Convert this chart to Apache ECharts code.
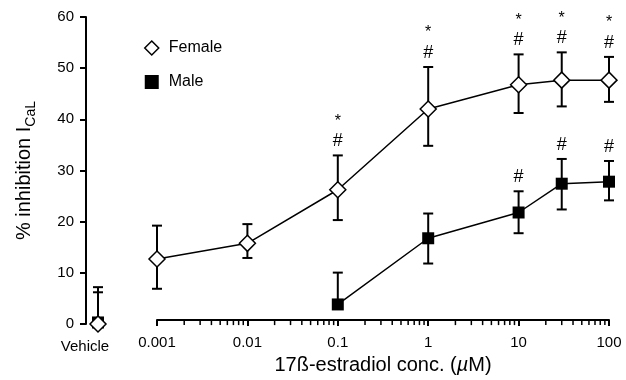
<!DOCTYPE html>
<html>
<head>
<meta charset="utf-8">
<script src="https://cdn.jsdelivr.net/npm/echarts@6/dist/echarts.min.js"></script>
<style>
  html, body { margin: 0; padding: 0; background: #fff; }
  #chart { width: 626px; height: 380px; }
</style>
</head>
<body>
<div id="chart"></div>
<script>
// concentrations in µM
const femaleConc = [0.001, 0.01, 0.1, 1, 10, 30, 100];
const femaleMean = [12.1, 15.2, 25.8, 41.8, 46.6, 47.5, 47.5];
const femaleLow = [6.2, 12.3, 19.8, 34.5, 41.0, 42.3, 43.2];
const femaleHigh = [18.7, 19.0, 32.6, 50.1, 52.6, 53.0, 52.1];
const femaleHash = [0, 0, 1, 1, 1, 1, 1];
const femaleStar = [0, 0, 1, 1, 1, 1, 1];

const maleConc = [0.1, 1, 10, 30, 100];
const maleMean = [3.1, 16.2, 21.3, 27.0, 27.4];
const maleLow = [null, 11.2, 17.2, 21.9, 23.7];
const maleHigh = [9.4, 21.1, 25.5, 31.9, 31.5];
const maleHash = [0, 0, 1, 1, 1];
const maleStar = [0, 0, 0, 0, 0];

// vehicle controls: [female, male]
const vehicleMean = [0, 0.3];
const vehicleHigh = [7.2, 6.2];

const minorMult = [2, 3, 4, 5, 6, 7, 8, 9];
const decades = [0.001, 0.01, 0.1, 1, 10];

const FONT = '"Liberation Sans", Arial, Helvetica, sans-serif';

const chart = echarts.init(document.getElementById('chart'), null, { renderer: 'canvas' });

function errorBar(params, api) {
  const x = api.value(0);
  const mean = api.value(1);
  const low = api.value(2);
  const high = api.value(3);
  const top = api.coord([x, high]);
  const bot = isNaN(low) ? api.coord([x, mean]) : api.coord([x, low]);
  const half = 5;
  const style = { stroke: '#000', lineWidth: 2 };
  const kids = [
    { type: 'line', shape: { x1: top[0], y1: top[1], x2: bot[0], y2: bot[1] }, style },
    { type: 'line', shape: { x1: top[0] - half, y1: top[1], x2: top[0] + half, y2: top[1] }, style },
  ];
  if (!isNaN(low)) {
    kids.push({ type: 'line', shape: { x1: bot[0] - half, y1: bot[1], x2: bot[0] + half, y2: bot[1] }, style });
  }
  return { type: 'group', children: kids };
}

function marks(params, api) {
  const p = api.coord([api.value(0), api.value(1)]);
  const kids = [];
  if (api.value(2)) {
    kids.push({ type: 'text', x: p[0], y: p[1] - 14,
      style: { text: '#', font: '18px ' + FONT, fill: '#000', align: 'center', verticalAlign: 'middle' } });
  }
  if (api.value(3)) {
    kids.push({ type: 'text', x: p[0], y: p[1] - 34,
      style: { text: '*', font: '16px ' + FONT, fill: '#000', align: 'center', verticalAlign: 'middle' } });
  }
  return { type: 'group', children: kids };
}

// minor log ticks 2..9 in every decade
const minorTicks = [];
decades.forEach(d => minorMult.forEach(m => minorTicks.push([d * m, 0])));

const femaleStyle = { color: '#fff', borderColor: '#000', borderWidth: 1.5, opacity: 1 };
const maleStyle = { color: '#000', borderColor: '#000', borderWidth: 0, opacity: 1 };

chart.setOption({
  animation: false,
  backgroundColor: '#fff',
  textStyle: { fontFamily: FONT },
  grid: [
    { left: 86, width: 24, top: 17, bottom: 56 },
    { left: 157, right: 17, top: 17, bottom: 56 },
  ],
  legend: {
    orient: 'vertical',
    left: 139,
    top: 35,
    itemWidth: 14,
    itemHeight: 14,
    itemGap: 18,
    textStyle: { fontSize: 16, color: '#000', fontFamily: FONT, padding: [0, 0, 0, 5] },
    data: [
      { name: 'Female', icon: 'diamond', itemStyle: femaleStyle },
      { name: 'Male', icon: 'rect', itemStyle: maleStyle },
    ],
  },
  xAxis: [
    {
      gridIndex: 0,
      type: 'category',
      data: ['Vehicle'],
      axisLine: { show: false },
      axisTick: { show: false },
      axisLabel: { color: '#000', fontSize: 15, margin: 15, padding: [0, 26, 0, 0] },
    },
    {
      gridIndex: 1,
      type: 'log',
      logBase: 10,
      min: 0.001,
      max: 100,
      splitNumber: 5,
      axisLine: { lineStyle: { color: '#000', width: 2 } },
      axisTick: { length: 6, lineStyle: { color: '#000', width: 2 } },
      axisLabel: { color: '#000', fontSize: 15, margin: 15,
        formatter: v => String(Number(v.toPrecision(3))) },
      splitLine: { show: false },
      name: '{t|17ß-estradiol conc. (}{m|µ}{t|M)}',
      nameLocation: 'middle',
      nameGap: 34,
      nameTextStyle: {
        rich: {
          t: { fontSize: 20, color: '#000', fontFamily: FONT },
          m: { fontSize: 20, color: '#000', fontFamily: FONT, fontStyle: 'italic' },
        },
      },
    },
  ],
  yAxis: [
    {
      gridIndex: 0,
      type: 'value',
      min: 0,
      max: 60,
      interval: 10,
      axisLine: { show: true, lineStyle: { color: '#000', width: 2 } },
      axisTick: { show: true, length: 6, lineStyle: { color: '#000', width: 2 } },
      axisLabel: { color: '#000', fontSize: 15, margin: 12 },
      splitLine: { show: false },
      name: '{a|% inhibition I}{b|CaL}',
      nameLocation: 'middle',
      nameGap: 48,
      nameTextStyle: {
        rich: {
          a: { fontSize: 20, color: '#000', fontFamily: FONT, lineHeight: 24, verticalAlign: 'top' },
          b: { fontSize: 14, color: '#000', fontFamily: FONT, lineHeight: 12, verticalAlign: 'bottom' },
        },
      },
    },
    {
      gridIndex: 1,
      type: 'value',
      min: 0,
      max: 60,
      interval: 10,
      show: false,
    },
  ],
  series: [
    {
      type: 'custom',
      xAxisIndex: 1, yAxisIndex: 1,
      renderItem: errorBar,
      data: femaleConc.map((c, i) => [c, femaleMean[i], femaleLow[i], femaleHigh[i]]),
      z: 2,
    },
    {
      type: 'custom',
      xAxisIndex: 1, yAxisIndex: 1,
      renderItem: errorBar,
      data: maleConc.map((c, i) => [c, maleMean[i], maleLow[i] == null ? NaN : maleLow[i], maleHigh[i]]),
      z: 2,
    },
    {
      type: 'custom',
      xAxisIndex: 0, yAxisIndex: 0,
      renderItem: errorBar,
      data: vehicleMean.map((m, i) => [0, m, NaN, vehicleHigh[i]]),
      z: 2,
    },
    {
      type: 'custom',
      xAxisIndex: 1, yAxisIndex: 1,
      renderItem: marks,
      data: femaleConc.map((c, i) => [c, femaleHigh[i], femaleHash[i], femaleStar[i]])
        .concat(maleConc.map((c, i) => [c, maleHigh[i], maleHash[i], maleStar[i]])),
      z: 2,
    },
    {
      name: 'Male',
      type: 'line',
      xAxisIndex: 1, yAxisIndex: 1,
      data: maleConc.map((c, i) => [c, maleMean[i]]),
      symbol: 'rect',
      symbolSize: 12,
      lineStyle: { color: '#000', width: 1.5 },
      itemStyle: maleStyle,
      z: 3,
    },
    {
      name: 'Female',
      type: 'line',
      xAxisIndex: 1, yAxisIndex: 1,
      data: femaleConc.map((c, i) => [c, femaleMean[i]]),
      symbol: 'diamond',
      symbolSize: 16,
      lineStyle: { color: '#000', width: 1.5 },
      itemStyle: femaleStyle,
      z: 3,
    },
    {
      name: 'Male',
      type: 'scatter',
      xAxisIndex: 0, yAxisIndex: 0,
      data: [[0, vehicleMean[1]]],
      symbol: 'rect',
      symbolSize: 12,
      itemStyle: maleStyle,
      z: 3,
    },
    {
      name: 'Female',
      type: 'scatter',
      xAxisIndex: 0, yAxisIndex: 0,
      data: [[0, vehicleMean[0]]],
      symbol: 'diamond',
      symbolSize: 16,
      itemStyle: femaleStyle,
      z: 4,
    },
    {
      name: 'minor',
      type: 'scatter',
      xAxisIndex: 1, yAxisIndex: 1,
      data: minorTicks,
      symbol: 'rect',
      symbolSize: [1.5, 5],
      symbolOffset: [0, 2.5],
      itemStyle: { color: '#000', opacity: 1 },
      clip: false,
      zlevel: 1,
      z: 10,
    },
  ],
});

window.addEventListener('resize', () => chart.resize());
</script>
</body>
</html>
